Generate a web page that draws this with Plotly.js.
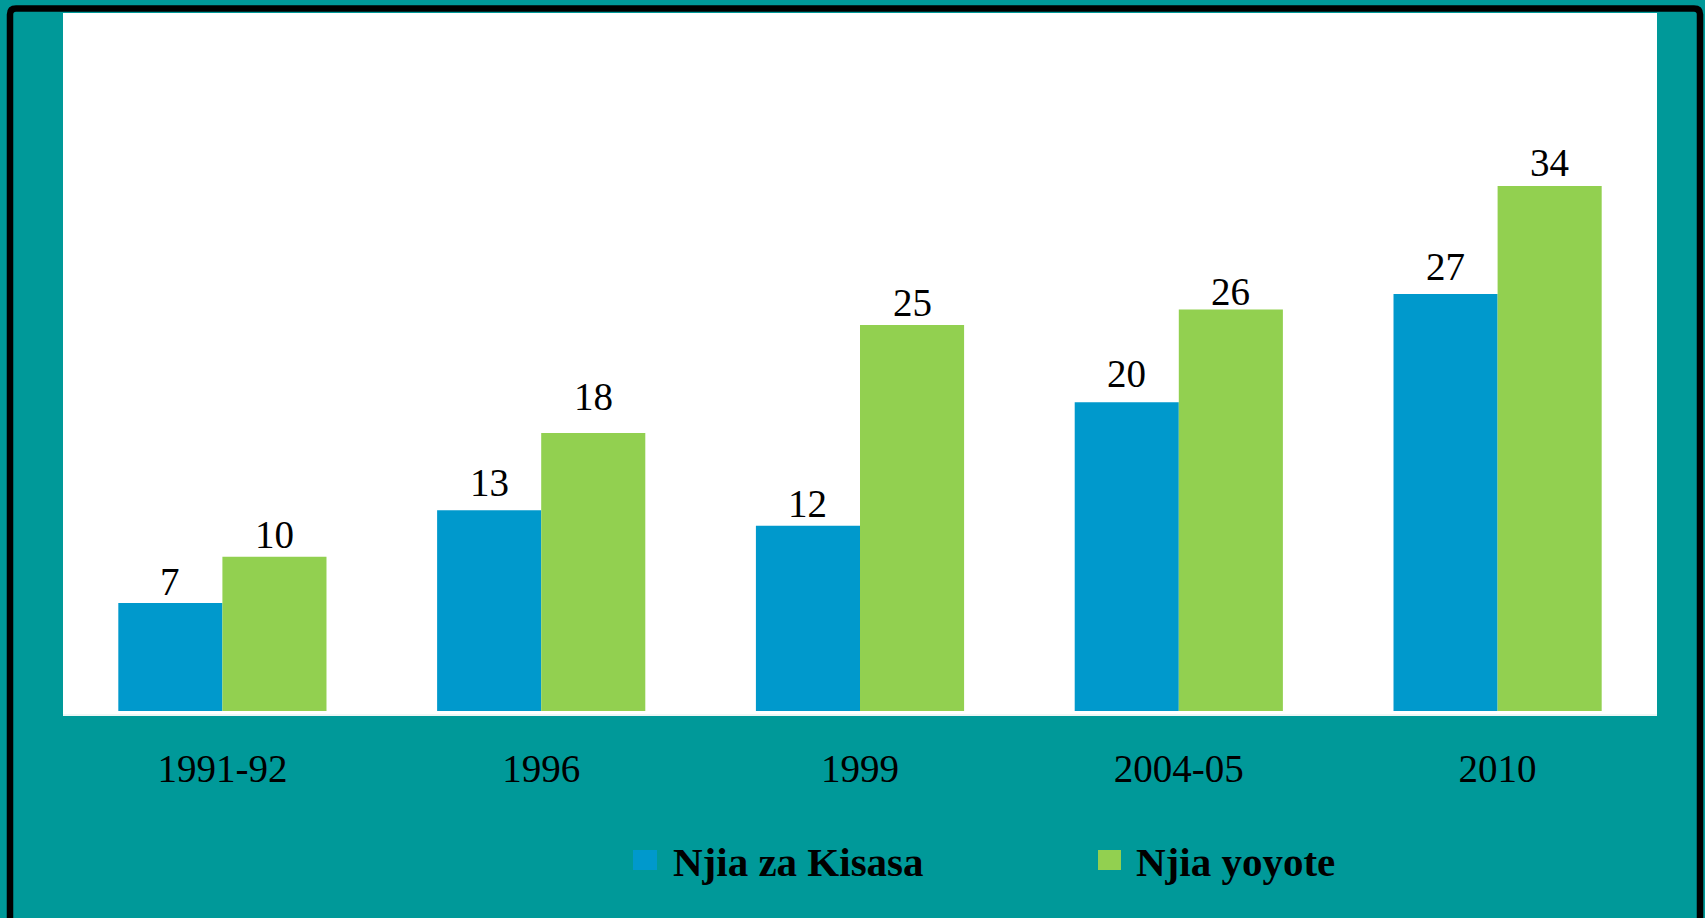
<!DOCTYPE html>
<html>
<head>
<meta charset="utf-8">
<script src="https://cdn.plot.ly/plotly-3.0.1.min.js"></script>
<style>
  html, body { margin: 0; padding: 0; background: #009999; }
  #chart { width: 1705px; height: 918px; }
</style>
</head>
<body>
<div id="chart"></div>
<script>
// ---- data ----
const categories = ["1991-92", "1996", "1999", "2004-05", "2010"];
const seriesNames = ["Njia za Kisasa", "Njia yoyote"];
const modernValues = [7, 13, 12, 20, 27];
const anyValues = [10, 18, 25, 26, 34];
const seriesColors = ["#0099CC", "#92D050"];

// ---- label placement (style: gap in px between bar top and label centre) ----
const labelGaps = [
  [21, 28, 22, 29, 28],
  [22, 37, 22, 18, 23]
];

// ---- layout geometry (pixels) ----
const W = 1705, H = 918;
const M = { l: 63, r: 48, t: 13, b: 204 };
const PW = W - M.l - M.r, PH = H - M.t - M.b;
const px = x => (x - M.l) / PW;           // pixel -> paper x
const py = y => (H - M.b - y) / PH;       // pixel -> paper y

const serif = '"Liberation Serif", "Times New Roman", serif';
const BARGAP = 0.347;
const barW = (1 - BARGAP) / 2;

const seriesValues = [modernValues, anyValues];

const traces = seriesValues.map((vals, s) => ({
  type: 'bar', x: categories, y: vals, name: seriesNames[s],
  marker: { color: seriesColors[s] }, hoverinfo: 'x+y'
}));

// border frame with rounded top corners
const bx0 = px(10), bx1 = px(1700), by0 = py(8.5), by1 = py(930);
const rx = 6 / PW, ry = 6 / PH;
const framePath = `M ${bx0} ${by1} L ${bx0} ${by0 - ry} Q ${bx0} ${by0} ${bx0 + rx} ${by0} ` +
  `L ${bx1 - rx} ${by0} Q ${bx1} ${by0} ${bx1} ${by0 - ry} L ${bx1} ${by1}`;

const legendItems = [
  { sq: [633, 657], tx: 671 },
  { sq: [1098, 1121], tx: 1134 }
];
const legSqY = [850, 870];
const legTextY = 862;

const shapes = [
  { type: 'path', xref: 'paper', yref: 'paper', path: framePath,
    line: { color: '#000', width: 6.5 }, layer: 'above' }
];
const annotations = [];

// value labels above bars
seriesValues.forEach((vals, s) => {
  const off = (s - 0.5) * barW;
  vals.forEach((v, i) => {
    annotations.push({ xref: 'x', yref: 'y', x: i + off, y: v,
      xanchor: 'center', yanchor: 'middle', yshift: labelGaps[s][i],
      showarrow: false, text: String(v),
      font: { family: serif, size: 39, color: '#000' } });
  });
});

legendItems.forEach((it, i) => {
  shapes.push({ type: 'rect', xref: 'paper', yref: 'paper',
    x0: px(it.sq[0]), x1: px(it.sq[1]), y0: py(legSqY[1]), y1: py(legSqY[0]),
    fillcolor: seriesColors[i], line: { width: 0 } });
  annotations.push({ xref: 'paper', yref: 'paper', x: px(it.tx), y: py(legTextY),
    xanchor: 'left', yanchor: 'middle', showarrow: false, text: seriesNames[i],
    font: { family: serif, size: 41, color: '#000', weight: 'bold' } });
});

const layout = {
  width: W, height: H,
  margin: M,
  paper_bgcolor: '#009999',
  plot_bgcolor: '#FFFFFF',
  barmode: 'group',
  bargap: BARGAP,
  bargroupgap: 0,
  showlegend: false,
  xaxis: {
    type: 'category',
    showgrid: false, zeroline: false,
    showline: true, linecolor: '#EEF7F6', linewidth: 2,
    ticks: '', ticklabelstandoff: 19,
    tickfont: { family: serif, size: 39, color: '#000' }
  },
  yaxis: {
    range: [-0.19, 45.2],
    showgrid: false, zeroline: false, showline: false,
    showticklabels: false, ticks: ''
  },
  shapes: shapes,
  annotations: annotations
};

Plotly.newPlot('chart', traces, layout, { displayModeBar: false, staticPlot: true });
</script>
</body>
</html>
